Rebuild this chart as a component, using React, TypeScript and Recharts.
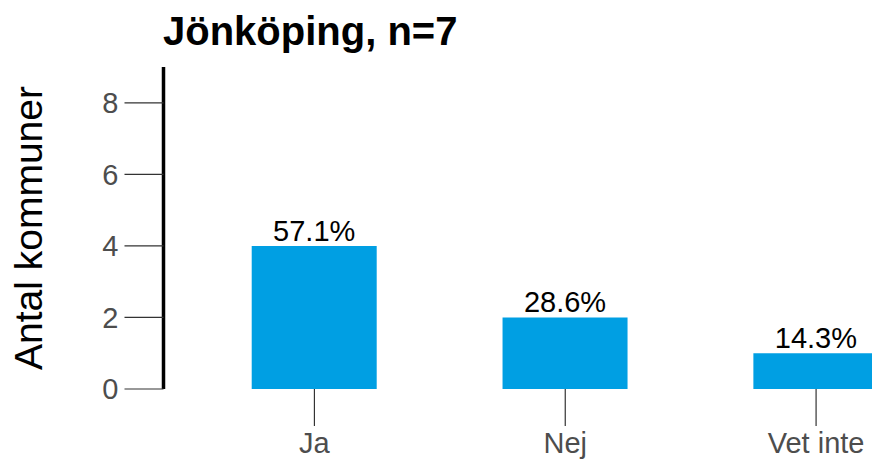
import { BarChart, Bar, XAxis, YAxis, LabelList } from "recharts";

const categories = ["Ja", "Nej", "Vet inte"];
const counts = [4, 2, 1];
const percents = ["57.1", "28.6", "14.3"];
const yTicks = [0, 2, 4, 6, 8];

const data = categories.map((name, i) => ({ name, count: counts[i], pct: percents[i] }));

const FONT = '"Liberation Sans", Arial, sans-serif';

function YTitle() {
  return (
    <text
      x={42}
      y={228}
      transform="rotate(-90 42 228)"
      textAnchor="middle"
      fontSize={39}
      fontFamily={FONT}
      fill="#000"
    >
      Antal kommuner
    </text>
  );
}

export default function App() {
  return (
    <div style={{ position: "relative", width: 872, height: 463, overflow: "hidden", background: "#fff", fontFamily: FONT }}>
      <style>{"body{margin:0}"}</style>
      <div
        style={{
          position: "absolute",
          left: 163,
          top: 11,
          fontSize: 40,
          lineHeight: "40px",
          fontWeight: "bold",
          color: "#000",
          whiteSpace: "nowrap",
        }}
      >
        Jönköping, n=7
      </div>
      <BarChart
        width={945}
        height={463}
        data={data}
        margin={{ top: 67, right: 3.5, bottom: 0, left: 0 }}
        barCategoryGap="25%"
      >
        <XAxis
          dataKey="name"
          axisLine={false}
          tickLine={{ stroke: "#333", strokeWidth: 1.2 }}
          tickSize={37}
          tickMargin={6}
          height={74}
          padding={{ left: 25.5, right: 0 }}
          tick={{ fontSize: 29, fill: "#4d4d4d", fontFamily: FONT }}
        />
        <YAxis
          width={163.5}
          domain={[0, 9]}
          ticks={yTicks}
          allowDataOverflow
          axisLine={{ stroke: "#000", strokeWidth: 3.5 }}
          tickLine={{ stroke: "#333", strokeWidth: 1.2 }}
          tickSize={39}
          tickMargin={6}
          tick={{ fontSize: 29, fill: "#4d4d4d", fontFamily: FONT }}
          label={{ content: () => <YTitle /> }}
        />
        <Bar dataKey="count" fill="#009FE3" isAnimationActive={false}>
          <LabelList
            dataKey="pct"
            position="top"
            offset={5}
            formatter={(v: any) => `${v}%`}
            style={{ fontSize: 29, fill: "#000", fontFamily: FONT }}
          />
        </Bar>
      </BarChart>
    </div>
  );
}
